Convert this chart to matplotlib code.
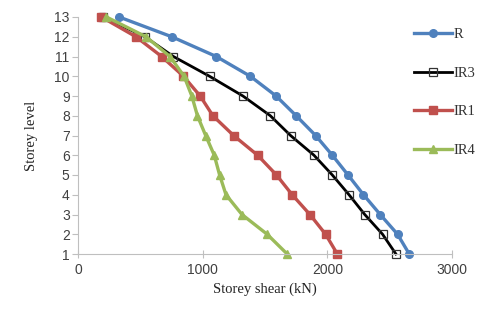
import matplotlib
matplotlib.use("Agg")
import matplotlib.pyplot as plt

storeys = list(range(13, 0, -1))
R   = [330, 752, 1109, 1382, 1589, 1750, 1906, 2040, 2166, 2290, 2424, 2563, 2657]
IR3 = [202, 537, 765, 1055, 1323, 1543, 1705, 1893, 2040, 2174, 2300, 2443, 2550]
IR1 = [188, 465, 671, 846, 980, 1082, 1248, 1441, 1592, 1718, 1860, 1986, 2080]
IR4 = [228, 545, 738, 851, 913, 958, 1024, 1093, 1136, 1187, 1315, 1517, 1678]
labels = ["R", "IR3", "IR1", "IR4"]
xticks = [0, 1000, 2000, 3000]

fig = plt.figure(figsize=(4.82, 3.24), dpi=100)
ax = fig.add_axes([78/482, 70/324, 374/482, 237/324])

hR, = ax.plot(R, storeys, color="#4F81BD", lw=2.4, marker="o", ms=5.5, label=labels[0], clip_on=False)
hI3, = ax.plot(IR3, storeys, color="black", lw=2.0, marker="s", ms=6,
               mfc="none", mec="#333333", mew=0.9, label=labels[1], clip_on=False)
hI1, = ax.plot(IR1, storeys, color="#C0504D", lw=2.4, marker="s", ms=6, label=labels[2], clip_on=False)
hI4, = ax.plot(IR4, storeys, color="#9BBB59", lw=2.4, marker="^", ms=5.5, label=labels[3], clip_on=False)

ax.set_xlim(0, 3000)
ax.set_ylim(1, 13)
ax.set_xticks(xticks)
ax.set_yticks(range(1, 14))
for s in ["top", "right"]:
    ax.spines[s].set_visible(False)
for s in ["left", "bottom"]:
    ax.spines[s].set_color("#BFBFBF")
ax.tick_params(axis="both", colors="#BFBFBF", labelcolor="#404040", labelsize=10, length=4)
ax.tick_params(axis="y", pad=2)
ax.tick_params(axis="x", direction="inout", length=6)
for t in ax.get_xticklabels() + ax.get_yticklabels():
    t.set_fontfamily("Liberation Sans")

ax.set_xlabel("Storey shear (kN)", fontfamily="Liberation Serif", fontsize=10.5, color="#222222", labelpad=4)
ax.set_ylabel("Storey level", fontfamily="Liberation Serif", fontsize=10.5, color="#222222", labelpad=12)

leg = fig.legend(handles=[hR, hI3, hI1, hI4], loc="upper left",
                 bbox_to_anchor=(408/482, 1 - 22/324), frameon=False,
                 prop={"family": "Liberation Serif", "size": 10.5},
                 labelspacing=1.75, handlelength=2.6, handletextpad=0.15, borderaxespad=0)
for t in leg.get_texts():
    t.set_color("#333333")

fig.savefig("out.png", dpi=100)
